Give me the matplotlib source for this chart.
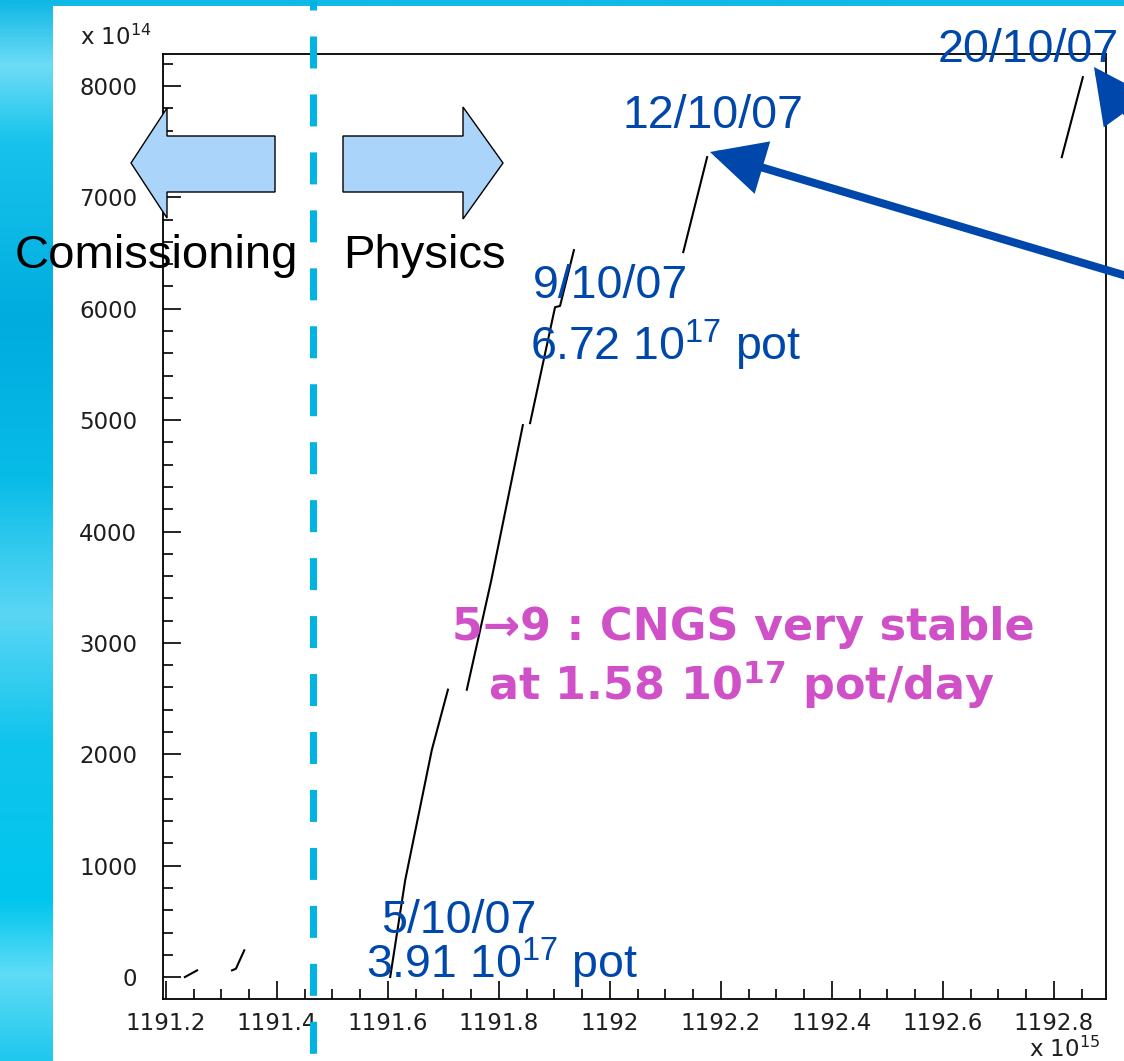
import numpy as np
import matplotlib.pyplot as plt
from matplotlib.patches import Polygon, Rectangle, FancyArrowPatch
from matplotlib.lines import Line2D
from matplotlib.colors import LinearSegmentedColormap
from matplotlib.ticker import MultipleLocator

plt.rcParams['mathtext.fontset'] = 'custom'
plt.rcParams['mathtext.default'] = 'regular'

W, H = 1124, 1061

# accumulated pot (x 10^14) against time (x 10^15), one list per run period
runs_t = [
    [1191.234, 1191.256],
    [1191.319, 1191.326, 1191.341],
    [1191.604, 1191.631, 1191.679, 1191.708],
    [1191.742, 1191.786, 1191.843],
    [1191.856, 1191.901, 1191.910, 1191.935],
    [1192.132, 1192.175],
    [1192.814, 1192.852],
]
runs_pot = [
    [0, 60],
    [60, 75, 240],
    [0, 870, 2040, 2580],
    [2580, 3560, 4955],
    [4973, 6014, 6025, 6526],
    [6508, 7361],
    [7361, 8079],
]

x_ticks = [1191.2, 1191.4, 1191.6, 1191.8, 1192.0, 1192.2, 1192.4, 1192.6, 1192.8]
x_labels = ['1191.2', '1191.4', '1191.6', '1191.8', '1192', '1192.2', '1192.4', '1192.6', '1192.8']
y_ticks = [0, 1000, 2000, 3000, 4000, 5000, 6000, 7000, 8000]

BLUE = '#0047ab'
PINK = '#d050c8'
CYAN = '#00b4e2'
ARROW_FILL = '#aad4fa'
ARIAL = 'Liberation Sans'


def fpos(px, py):
    # slide pixels (top left origin) -> figure fraction
    return px / W, 1 - py / H


fig = plt.figure(figsize=(W / 100, H / 100), dpi=100)

# slide background: cyan streaks, white panel on top
bg = fig.add_axes([0, 0, 1, 1], zorder=-10)
cmap = LinearSegmentedColormap.from_list('slide', [
    (0.00, '#10b8e6'), (0.06, '#6edcf6'), (0.13, '#18c4ec'), (0.30, '#00acde'),
    (0.45, '#08bce8'), (0.58, '#5ad6f4'), (0.70, '#10c4ec'), (0.85, '#00c6ee'),
    (0.92, '#60dcf6'), (1.00, '#20c8ee')])
bg.imshow(np.linspace(0, 1, 512).reshape(-1, 1), cmap=cmap, aspect='auto', extent=[0, 1, 0, 1])
bg.axis('off')
fig.add_artist(Rectangle(fpos(53, H), (W - 53) / W, (H - 6) / H, transform=fig.transFigure,
                         facecolor='white', edgecolor='none', zorder=-5))

ax = fig.add_axes([163 / W, 1 - 999 / H, (1106 - 163) / W, (999 - 54) / H])
for t, p in zip(runs_t, runs_pot):
    ax.plot(t, p, color='black', lw=1.5)

ax.set_xlim(1191.1946, 1192.8937)
ax.set_ylim(-197, 8287)
ax.set_xticks(x_ticks, labels=x_labels)
ax.set_yticks(y_ticks, labels=[str(v) for v in y_ticks])
ax.xaxis.set_minor_locator(MultipleLocator(0.05))
ax.yaxis.set_minor_locator(MultipleLocator(200))
ax.tick_params(which='both', direction='in', top=False, right=False, width=1.2,
               labelsize=16.5, labelcolor='#1e1e1e')
ax.tick_params(which='major', length=13)
ax.tick_params(which='minor', length=7.5)
ax.tick_params(axis='y', pad=18.5)
ax.tick_params(axis='x', pad=9)
for s in ax.spines.values():
    s.set_linewidth(1.3)

fig.text(*fpos(80, 45), 'x 10$^{14}$', fontsize=16.5, color='#1e1e1e', va='baseline')
fig.text(*fpos(1100, 1057), 'x 10$^{15}$', fontsize=16.5, color='#1e1e1e', va='baseline', ha='right')

# phase arrows
left_arrow = [(131, 163), (167, 108), (167, 136), (275, 136), (275, 192), (167, 192), (167, 218)]
right_arrow = [(503, 163), (463, 107), (463, 136), (343, 136), (343, 192), (463, 192), (463, 219)]
for pts in (left_arrow, right_arrow):
    fig.add_artist(Polygon([fpos(*p) for p in pts], closed=True, transform=fig.transFigure,
                           facecolor=ARROW_FILL, edgecolor='black', lw=1.0, zorder=5))

fig.text(*fpos(15, 268), 'Comissioning', fontsize=34, family=ARIAL, color='black', va='baseline', zorder=6)
fig.text(*fpos(343, 268), 'Physics', fontsize=34, family=ARIAL, color='black', va='baseline', zorder=6)

# commissioning / physics boundary
fig.add_artist(Line2D([313 / W, 313 / W], [1, 0], transform=fig.transFigure, color=CYAN,
                      lw=5.04, linestyle=(3.14, (4.57, 3.71)), zorder=7))

# dates
blue_kw = dict(fontsize=33.5, family=ARIAL, color=BLUE, va='baseline', zorder=6)
fig.text(*fpos(622, 128), '12/10/07', **blue_kw)
fig.text(*fpos(938, 62), '20/10/07', **blue_kw)
fig.text(*fpos(533, 298), '9/10/07', **blue_kw)
fig.text(*fpos(530, 360), '6.72 10$^{17}$ pot', **blue_kw)
fig.text(*fpos(381, 933), '5/10/07', **blue_kw)
fig.text(*fpos(366, 978), '3.91 10$^{17}$ pot', **blue_kw)

pink_kw = dict(fontsize=32, family='DejaVu Sans', weight='bold', color=PINK, va='baseline', ha='center', zorder=6)
fig.text(*fpos(743, 640), '5\u21929 : CNGS very stable', **pink_kw)
fig.text(*fpos(741, 700), 'at 1.58 10$^{17}$ pot/day', **pink_kw)

for start, tip in [((1130, 277), (710, 152)), ((1135, 124), (1094, 67))]:
    fig.add_artist(FancyArrowPatch(fpos(*start), fpos(*tip), transform=fig.transFigure,
                                   arrowstyle='-|>,head_length=3.0,head_width=1.5', mutation_scale=10,
                                   lw=5.8, color=BLUE, shrinkA=0, shrinkB=0, joinstyle='miter', zorder=8))

fig.savefig('out.png', dpi=100)
